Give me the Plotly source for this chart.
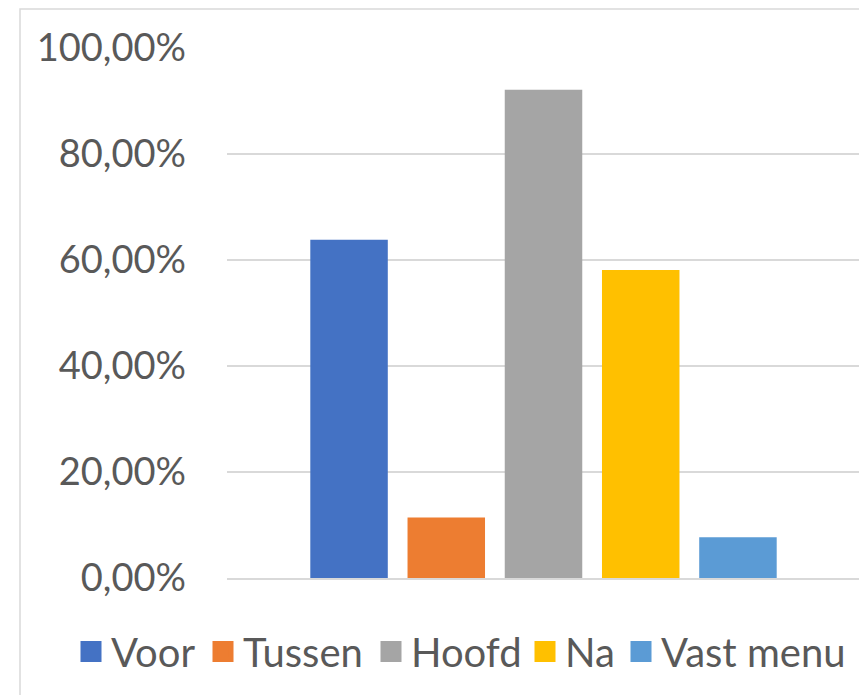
import plotly.graph_objects as go

series = ["Voor", "Tussen", "Hoofd", "Na", "Vast menu"]
values = [0.638, 0.114, 0.921, 0.581, 0.077]
colors = ["#4472C4", "#ED7D31", "#A5A5A5", "#FFC000", "#5B9BD5"]
category = [""]
tick_vals = [0, 0.2, 0.4, 0.6, 0.8, 1.0]
tick_text = ["0,00%", "20,00%", "40,00%", "60,00%", "80,00%", "100,00%"]

FONT = "Lato, 'Open Sans', sans-serif"
TXT = "#595959"
# page body has an 8px margin, so the figure is laid out 8px smaller/offset
W, H = 859, 687
legend_left_px = [63, 195, 363, 517, 613]
legend_center_y = 643.5

fig = go.Figure()
for name, v, c in zip(series, values, colors):
    fig.add_trace(go.Bar(x=category, y=[v], name=name, showlegend=False,
                         marker=dict(color=c, line=dict(width=0))))

legend_layout = {}
for i, (name, c) in enumerate(zip(series, colors)):
    lid = "legend" if i == 0 else f"legend{i+1}"
    fig.add_trace(go.Scatter(x=category, y=[None], name=name, mode="markers", legend=lid,
                             marker=dict(symbol="square", color=c, size=16,
                                         line=dict(color=c, width=5)),
                             hoverinfo="skip"))
    legend_layout[lid] = dict(orientation="h", xref="container", yref="container",
                              x=legend_left_px[i] / W, xanchor="left",
                              y=(H - legend_center_y) / H, yanchor="middle",
                              font=dict(size=40, color=TXT, family=FONT),
                              itemwidth=30, bgcolor="rgba(0,0,0,0)", borderwidth=0)

fig.update_layout(
    width=W, height=H,
    margin=dict(l=219, r=7, t=40, b=117, autoexpand=False),
    paper_bgcolor="white", plot_bgcolor="white",
    barmode="group", bargap=0.232, bargroupgap=0.203,
    font=dict(family=FONT, color=TXT, size=38),
    showlegend=True,
    shapes=[dict(type="rect", xref="paper", yref="paper", x0=-0.327, x1=2, y0=-1, y1=1.0736,
                 line=dict(color="#D9D9D9", width=1.5), fillcolor="rgba(0,0,0,0)", layer="below")],
    **legend_layout,
)
fig.update_yaxes(range=[0, 1], tickvals=tick_vals, ticktext=tick_text, showgrid=True,
                 gridcolor="#D9D9D9", gridwidth=1.5, zeroline=False, showline=False,
                 ticks="", ticklabelstandoff=40, tickfont=dict(size=38, color=TXT, family=FONT))
fig.update_xaxes(showticklabels=False, showgrid=False, zeroline=False, showline=True,
                 linecolor="#D9D9D9", linewidth=1.5, ticks="")

fig.write_html("out.html")
